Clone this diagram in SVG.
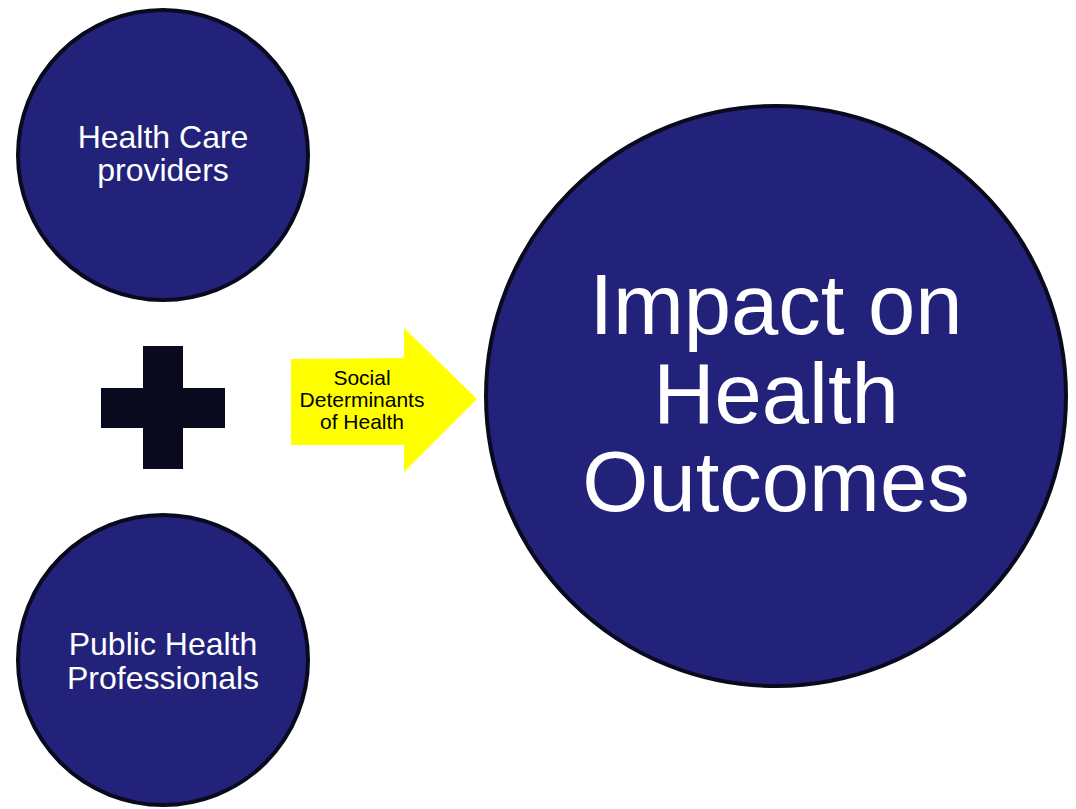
<svg xmlns="http://www.w3.org/2000/svg" width="1076" height="809" viewBox="0 0 1076 809">
<style>
.c{fill:#22227a;stroke:#0a0a1e;stroke-width:4}
.t{font-family:"Liberation Sans",Arial,sans-serif;fill:#ffffff;text-anchor:middle}
.a{font-family:"Liberation Sans",Arial,sans-serif;fill:#000000;text-anchor:middle;font-size:21px}
</style>
<rect width="1076" height="809" fill="#ffffff"/>
<g id="health-care-providers">
<circle class="c" cx="163" cy="155" r="145"/>
<text class="t" font-size="32" x="163" y="148">Health Care</text>
<text class="t" font-size="32" x="163" y="181">providers</text>
</g>
<g id="plus">
<rect x="143" y="346" width="40" height="123" fill="#0a0a1e"/>
<rect x="101" y="388" width="124" height="40" fill="#0a0a1e"/>
</g>
<g id="public-health-professionals">
<circle class="c" cx="163" cy="660" r="145"/>
<text class="t" font-size="32" x="163" y="655">Public Health</text>
<text class="t" font-size="32" x="163" y="689">Professionals</text>
</g>
<g id="connectors">
<g id="sdoh-arrow">
<polygon points="291,359 404,358 404,328 477,399 404,472 404,445 291,445" fill="#ffff00"/>
<text class="a" x="362" y="385">Social</text>
<text class="a" x="362" y="407">Determinants</text>
<text class="a" x="362" y="429">of Health</text>
</g>
</g>
<g id="impact-on-health-outcomes">
<circle class="c" cx="776" cy="396" r="290"/>
<text class="t" font-size="85" x="776" y="334">Impact on</text>
<text class="t" font-size="85" x="776" y="423">Health</text>
<text class="t" font-size="85" x="776" y="511">Outcomes</text>
</g>
</svg>
